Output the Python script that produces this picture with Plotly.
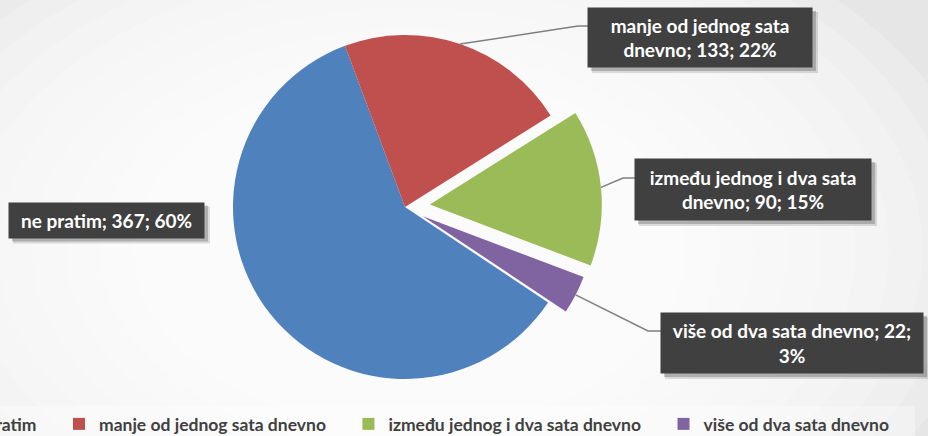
import math
import textwrap

import plotly.graph_objects as go

# data
labels = ["ne pratim", "manje od jednog sata dnevno", "između jednog i dva sata dnevno", "više od dva sata dnevno"]
values = [367, 133, 90, 22]
colors = ["#4f81bd", "#c0504d", "#9bbb59", "#8064a2"]
pulls = [0, 0, 0.145, 0.116]

W, H = 928, 436
B = 30                      # bottom margin that holds the legend
PH = H - B                  # plot-area height
S = 120                     # hidden left strip, so the legend may start off-screen
ROTATION = 123.7
FONT = "Lato"
LEGEND_PAD = "\u2002\u2002"  # widens legend entries to Excel-like spacing

# pie box (pixels, from the top-left corner) -> domain inside the plot area
PIE_CX, PIE_CY, PIE_R = 405, 207, 172
half = PIE_R * (1 + max(pulls))
DOM_X = [(PIE_CX - half) / W, (PIE_CX + half) / W]
DOM_Y = [max(0, (PH - PIE_CY - half) / PH), (PH - PIE_CY + half) / PH]


def pct_largest_remainder(vals):
    tot = sum(vals)
    raw = [v * 100 / tot for v in vals]
    base = [math.floor(r) for r in raw]
    left = 100 - sum(base)
    order = sorted(range(len(vals)), key=lambda i: raw[i] - base[i], reverse=True)
    for i in order[:left]:
        base[i] += 1
    return base


pcts = pct_largest_remainder(values)

# label boxes: centre px, size px, wrap width, leader elbow px (None = no leader)
boxes = [
    dict(c=(106.5, 220), size=(195, 35), wrap=40, elbow=None),
    dict(c=(700, 37.5), size=(224, 59), wrap=20, elbow=[(578, 26), (588, 26)]),
    dict(c=(753, 189.5), size=(236, 61), wrap=24, elbow=[(623, 178), (635, 178)]),
    dict(c=(792, 343), size=(262, 60), wrap=28, elbow=[(648, 331), (662, 331)]),
]


def px(x, y):
    return x / W, 1 - y / PH


def rect(x_a, y_a, x_b, y_b, fill, layer="below"):
    xa, ya = px(x_a, y_a)
    xb, yb = px(x_b, y_b)
    return dict(type="rect", xref="paper", yref="paper", x0=xa, x1=xb, y0=yb, y1=ya,
                fillcolor=fill, line=dict(width=0), layer=layer)


fig = go.Figure(
    go.Pie(
        labels=[l + LEGEND_PAD for l in labels],
        values=values,
        customdata=labels,
        hovertemplate="%{customdata}: %{value} (%{percent})<extra></extra>",
        marker=dict(colors=colors, line=dict(width=0)),
        pull=pulls,
        sort=False,
        direction="clockwise",
        rotation=ROTATION,
        textinfo="none",
        domain=dict(x=DOM_X, y=DOM_Y),
    )
)

# geometry of the pie, as plotly computes it
bw = W * (DOM_X[1] - DOM_X[0])
bh = PH * (DOM_Y[1] - DOM_Y[0])
r = min(bw, bh) / (2 + 2 * max(pulls))
cx = W * (DOM_X[0] + DOM_X[1]) / 2
cy = PH * (1 - DOM_Y[0]) - bh / 2

shapes = []
# soft radial background
N = 16
for k in range(N):
    f = 1 - k / N
    rx, ry = 540 * f + 40, 340 * f + 30
    x0, y0 = px(410 - rx, 250 - ry)
    x1, y1 = px(410 + rx, 250 + ry)
    shapes.append(dict(type="circle", xref="paper", yref="paper", x0=x0, x1=x1, y0=y1, y1=y0,
                       fillcolor="rgba(255,255,255,0.2)", line=dict(width=0), layer="below"))
# faint legend strip
shapes.append(rect(-10, 406, 915, 440, "rgba(255,255,255,0.35)"))

annotations = []
total = sum(values)
acc = 0
for i, v in enumerate(values):
    mid = math.radians(ROTATION + (acc + v / 2) / total * 360)
    acc += v
    b = boxes[i]
    if b["elbow"]:
        ax = cx + r * (1 + pulls[i]) * math.sin(mid)
        ay = cy - r * (1 + pulls[i]) * math.cos(mid)
        pts = [(ax, ay)] + b["elbow"]
        path = "M " + " L ".join(f"{px(x, y)[0]},{px(x, y)[1]}" for x, y in pts)
        shapes.append(dict(type="path", xref="paper", yref="paper", path=path,
                           line=dict(color="#7f7f7f", width=1.5)))
    # drop shadow behind the label box
    (bx, by), (w, h) = b["c"], b["size"]
    shapes.append(rect(bx - w / 2 + 4, by - h / 2 + 4, bx + w / 2 + 6, by + h / 2 + 6,
                       "rgba(0,0,0,0.12)", layer="above"))
    shapes.append(rect(bx - w / 2 + 3, by - h / 2 + 3, bx + w / 2 + 4, by + h / 2 + 4,
                       "rgba(0,0,0,0.2)", layer="above"))
    text = "<br>".join(textwrap.wrap(f"{labels[i]}; {v}; {pcts[i]}%", b["wrap"]))
    x, y = px(bx, by)
    annotations.append(dict(
        xref="paper", yref="paper", x=x, y=y, xanchor="center", yanchor="middle",
        text=text, showarrow=False, align="center",
        width=w - 8, height=h - 8, borderpad=4, bgcolor="#404040",
        font=dict(family=FONT, size=19, weight="bold", color="white"),
    ))

fig.update_layout(
    width=W + S,
    height=H,
    margin=dict(l=S, r=0, t=0, b=B, autoexpand=False),
    paper_bgcolor="#e6e6e6",
    plot_bgcolor="#e6e6e6",
    shapes=shapes,
    annotations=annotations,
    showlegend=True,
    legend=dict(
        orientation="h", x=-78 / W, y=0.0, xanchor="left", yanchor="top",
        font=dict(family=FONT, size=17.5, weight="bold", color="#404040"),
        bgcolor="rgba(0,0,0,0)", itemclick=False,
    ),
)

fig.write_html(
    "out.html",
    config={"displayModeBar": False},
    post_script=(
        "document.body.style.margin='0';"
        "document.body.style.overflow='hidden';"
        f"document.getElementById('{{plot_id}}').style.marginLeft='-{S}px';"
    ),
)
